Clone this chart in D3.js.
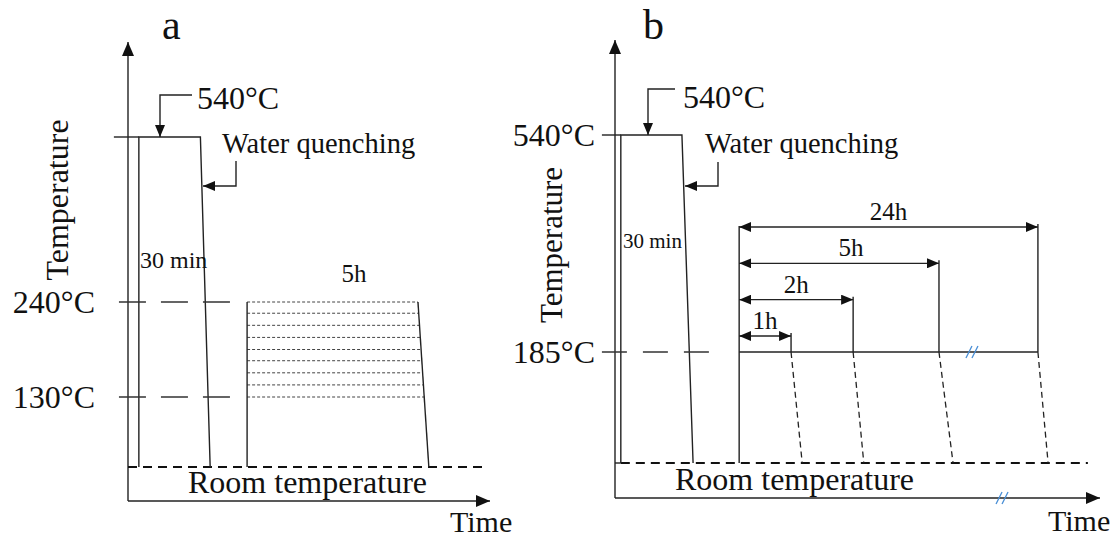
<!DOCTYPE html>
<html lang="en">
<head>
<meta charset="UTF-8" />
<title>Heat treatment schedules</title>
<script src="https://d3js.org/d3.v7.min.js"></script>
<style>
  body { margin: 0; background: #fff; }
  svg { display: block; font-family: "Liberation Serif", "Times New Roman", serif; fill: #111; }
  .ln { fill: none; stroke: #222; stroke-width: 1.4px; }
  .guide { fill: none; stroke: #333; stroke-width: 1.4px; }
  .room { fill: none; stroke: #111; stroke-width: 2px; stroke-dasharray: 9 6; }
  .hatch { fill: none; stroke: #444; stroke-width: 1px; stroke-dasharray: 3 2; }
  .cool { fill: none; stroke: #222; stroke-width: 1.3px; stroke-dasharray: 6 4; }
  .brk { fill: none; stroke: #4a8fd6; stroke-width: 1.3px; }
</style>
</head>
<body>
<svg id="chart" width="1118" height="540"></svg>
<script>
// ---- data (time in schematic axis units 0-100, temperature in °C) ----
const roomTemp = 25;

// panel a: solution treatment + aging at 130-240 °C for 5h
const aTickTemps = [240, 130];
const aSolutionTime = [3, 3, 20, 22.7];
const aSolutionTemp = [roomTemp, 540, 540, roomTemp];
const aAgeTime = [32.9, 32.9, 80.1, 83.1];
const aAgeTemp = [roomTemp, 240, 240, roomTemp];
const aAgeLevels = [240, 227, 213, 199, 185, 172, 158, 144, 130];

// panel b: solution treatment + aging at 185 °C for 1, 2, 5, 24h
const bTickTemps = [540, 185];
const bSolutionTime = [1.2, 1.2, 13.8, 16.1];
const bSolutionTemp = [roomTemp, 540, 540, roomTemp];
const bAgeStart = 25.6;
const bAgeTemp = 185;
const bDurations = ["1h", "2h", "5h", "24h"];
const bHoldEnd = [36.3, 49.1, 66.8, 87.2];
const bCoolEnd = [38.6, 51.3, 69.7, 89.3];

// ---- scales ----
const xa = d3.scaleLinear().domain([0, 100]).range([128, 490]);
const ya = d3.scaleLinear().domain([roomTemp, 130, 240, 540]).range([467, 397, 302, 137]);
const xb = d3.scaleLinear().domain([0, 100]).range([615, 1100]);
const yb = d3.scaleLinear().domain([roomTemp, 185, 540]).range([463, 352, 135]);
const yArrow = d3.scalePoint().domain(bDurations.slice().reverse()).range([227, 336]);

const svg = d3.select("#chart");
svg.append("rect").attr("width", 1118).attr("height", 540).attr("fill", "#fff");

const defs = svg.append("defs");
function marker(id, w, h) {
  defs.append("marker").attr("id", id)
    .attr("markerUnits", "userSpaceOnUse")
    .attr("markerWidth", w).attr("markerHeight", h)
    .attr("refX", w).attr("refY", h / 2)
    .attr("orient", "auto-start-reverse")
    .append("path").attr("d", `M0,0L${w},${h / 2}L0,${h}Z`).attr("fill", "#111");
}
marker("axArrow", 14, 12);
marker("arrow", 12, 10);

const line = d3.line();

function frame(x, y, top, bottom, left, right, xEnd) {
  // axes with arrow heads
  svg.append("path").attr("class", "ln")
    .attr("d", line([[x(0), bottom], [x(0), top]]))
    .attr("marker-end", "url(#axArrow)");
  svg.append("path").attr("class", "ln")
    .attr("d", line([[x(0), bottom], [xEnd, bottom]]))
    .attr("marker-end", "url(#axArrow)");
}

function profile(x, y, times, temps) {
  svg.append("path").attr("class", "ln")
    .attr("d", line(times.map((t, i) => [x(t), y(temps[i])])));
}

function callout(pts, label, tx, ty, size) {
  svg.append("path").attr("class", "ln").attr("d", line(pts))
    .attr("marker-end", "url(#arrow)");
  svg.append("text").attr("x", tx).attr("y", ty)
    .attr("font-size", size).text(label);
}

// ================= panel a =================
frame(xa, ya, 42, 501, 0, 100, 490);
svg.append("text").attr("x", 162).attr("y", 39).attr("font-size", 42).text("a");
svg.append("text").attr("transform", "translate(68,200) rotate(-90)")
  .attr("text-anchor", "middle").attr("font-size", 32).text("Temperature");

// room temperature
svg.append("path").attr("class", "room")
  .attr("d", line([[xa(0), ya(roomTemp)], [xa(98.6), ya(roomTemp)]]));
svg.append("text").attr("x", 188).attr("y", 493).attr("font-size", 32).text("Room temperature");
svg.append("text").attr("x", 450).attr("y", 532).attr("font-size", 30).text("Time");

// 540 plateau line extends to axis
svg.append("path").attr("class", "ln")
  .attr("d", line([[xa(-3.9), ya(540)], [xa(aSolutionTime[1]), ya(540)]]));
profile(xa, ya, aSolutionTime, aSolutionTemp);

// temperature guides
aTickTemps.forEach(t => {
  svg.append("path").attr("class", "guide").attr("stroke-dasharray", "27 15")
    .attr("d", line([[xa(-2.5), ya(t)], [xa(29.6), ya(t)]]));
  svg.append("text").attr("x", 95).attr("y", ya(t)).attr("dy", "0.35em")
    .attr("text-anchor", "end").attr("font-size", 32).text(t + "°C");
});

// aging band
const slant = d3.scaleLinear()
  .domain([ya(aAgeTemp[2]), ya(aAgeTemp[3])])
  .range([xa(aAgeTime[2]), xa(aAgeTime[3])]);
svg.selectAll(".hatchA").data(aAgeLevels).join("path")
  .attr("class", "hatch")
  .attr("d", t => line([[xa(aAgeTime[0]), ya(t)], [slant(ya(t)), ya(t)]]));
svg.append("path").attr("class", "ln")
  .attr("d", line([[xa(aAgeTime[0]), ya(roomTemp)], [xa(aAgeTime[1]), ya(240)]]));
svg.append("path").attr("class", "ln")
  .attr("d", line([[xa(aAgeTime[2]), ya(240)], [xa(aAgeTime[3]), ya(roomTemp)]]));
svg.append("text").attr("x", 354).attr("y", 282).attr("text-anchor", "middle")
  .attr("font-size", 25).text("5h");

svg.append("text").attr("x", 140).attr("y", 268).attr("font-size", 24).text("30 min");
callout([[192, 95], [160, 95], [160, ya(540)]], "540°C", 197, 109, 32);
callout([[236, 161], [236, 186], [203, 186]], "Water quenching", 222, 153, 28.5);

// ================= panel b =================
frame(xb, yb, 40, 498, 0, 100, 1100);
svg.append("text").attr("x", 643).attr("y", 39).attr("font-size", 42).text("b");
svg.append("text").attr("transform", "translate(562,245) rotate(-90)")
  .attr("text-anchor", "middle").attr("font-size", 31).text("Temperature");

svg.append("path").attr("class", "room")
  .attr("d", line([[xb(bSolutionTime[0]), yb(roomTemp)], [xb(97.5), yb(roomTemp)]]));
svg.append("path").attr("class", "ln")
  .attr("d", line([[xb(0), yb(roomTemp)], [xb(bSolutionTime[0]), yb(roomTemp)]]));
svg.append("text").attr("x", 675).attr("y", 490).attr("font-size", 32).text("Room temperature");
svg.append("text").attr("x", 1048).attr("y", 531).attr("font-size", 30).text("Time");

svg.append("path").attr("class", "ln")
  .attr("d", line([[xb(-2.7), yb(540)], [xb(bSolutionTime[1]), yb(540)]]));
profile(xb, yb, bSolutionTime, bSolutionTemp);

bTickTemps.forEach(t => {
  svg.append("text").attr("x", 595).attr("y", yb(t)).attr("dy", "0.35em")
    .attr("text-anchor", "end").attr("font-size", 32).text(t + "°C");
});
svg.append("path").attr("class", "guide").attr("stroke-dasharray", "25 16")
  .attr("d", line([[xb(-2.7), yb(185)], [xb(21), yb(185)]]));

// aging hold at 185 °C
const ageTop = yArrow("24h") - 1;
svg.append("path").attr("class", "ln")
  .attr("d", line([[xb(bAgeStart), yb(roomTemp)], [xb(bAgeStart), ageTop]]));
svg.append("path").attr("class", "ln")
  .attr("d", line([[xb(bAgeStart), yb(bAgeTemp)], [xb(d3.max(bHoldEnd)), yb(bAgeTemp)]]));

bDurations.forEach((d, i) => {
  const ay = yArrow(d);
  const x0 = xb(bAgeStart), x1 = xb(bHoldEnd[i]);
  svg.append("path").attr("class", "ln")
    .attr("d", line([[x0, ay], [x1, ay]]))
    .attr("marker-start", "url(#arrow)").attr("marker-end", "url(#arrow)");
  svg.append("path").attr("class", "ln")
    .attr("d", line([[x1, ay - 3], [x1, yb(bAgeTemp)]]));
  svg.append("path").attr("class", "cool")
    .attr("d", line([[x1, yb(bAgeTemp)], [xb(bCoolEnd[i]), yb(roomTemp)]]));
  svg.append("text").attr("x", (x0 + x1) / 2 + (d === "5h" ? 12 : 0)).attr("y", ay - 7)
    .attr("text-anchor", "middle").attr("font-size", 25).text(d);
});

// axis breaks
function breakMark(cx, cy) {
  [-3, 3].forEach(o => {
    svg.append("path").attr("class", "brk")
      .attr("d", line([[cx + o - 3, cy + 6], [cx + o + 3, cy - 6]]));
  });
}
breakMark(xb(73.6), yb(bAgeTemp));
breakMark(xb(79.8), 498);

svg.append("text").attr("x", 623).attr("y", 248).attr("font-size", 21).text("30 min");
callout([[675, 89], [648, 89], [648, yb(540)]], "540°C", 683, 108, 32);
callout([[718, 162], [718, 186], [685, 186]], "Water quenching", 705, 153, 28.5);
</script>
</body>
</html>
